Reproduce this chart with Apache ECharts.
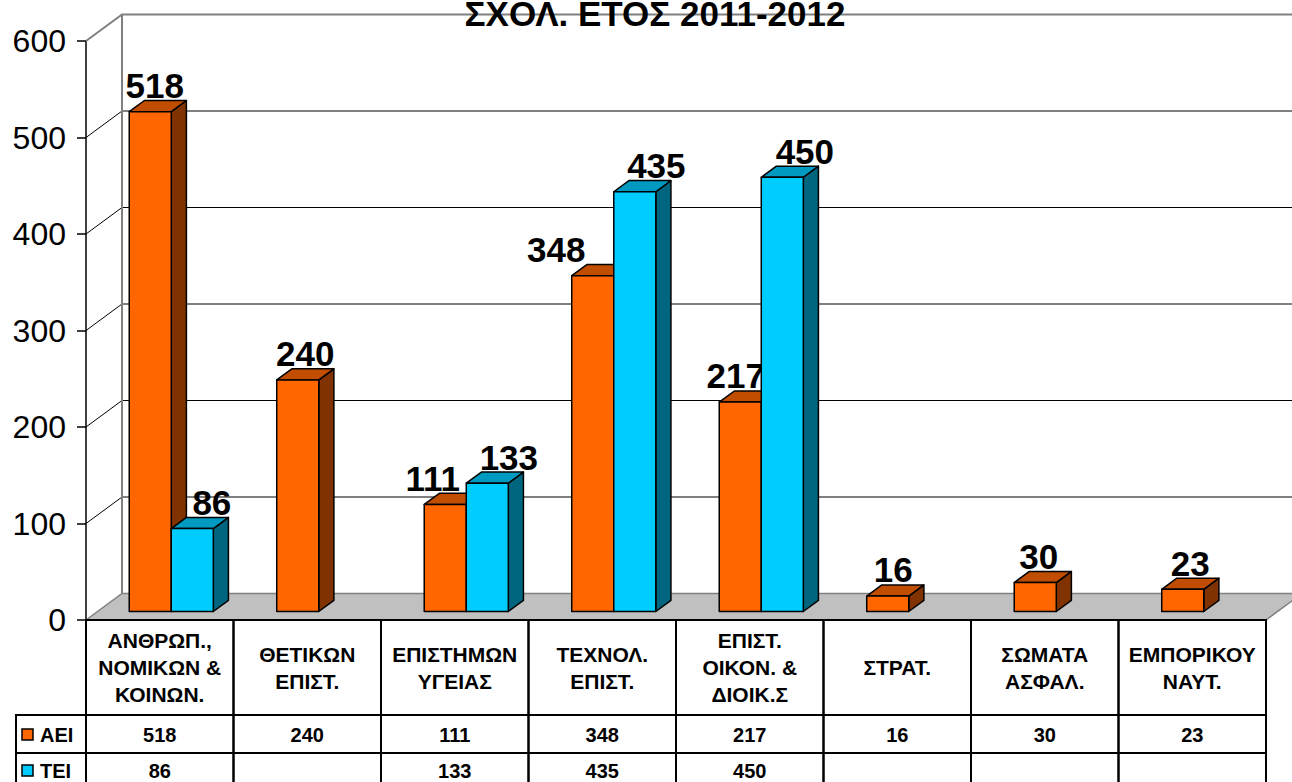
<!DOCTYPE html>
<html>
<head>
<meta charset="utf-8">
<script src="https://cdn.jsdelivr.net/npm/echarts@6/dist/echarts.min.js"></script>
<style>
html, body { margin: 0; padding: 0; background: #fff; }
#main { width: 1292px; height: 782px; }
</style>
</head>
<body>
<div id="main"></div>
<script>
var chartTitle = "ΣΧΟΛ. ΕΤΟΣ 2011-2012";
var categories = [
    "ΑΝΘΡΩΠ.,\nΝΟΜΙΚΩΝ &\nΚΟΙΝΩΝ.",
    "ΘΕΤΙΚΩΝ\nΕΠΙΣΤ.",
    "ΕΠΙΣΤΗΜΩΝ\nΥΓΕΙΑΣ",
    "ΤΕΧΝΟΛ.\nΕΠΙΣΤ.",
    "ΕΠΙΣΤ.\nΟΙΚΟΝ. &\nΔΙΟΙΚ.Σ",
    "ΣΤΡΑΤ.",
    "ΣΩΜΑΤΑ\nΑΣΦΑΛ.",
    "ΕΜΠΟΡΙΚΟΥ\nΝΑΥΤ."
];
var seriesNames = ["ΑΕΙ", "ΤΕΙ"];
var aeiValues = [518, 240, 111, 348, 217, 16, 30, 23];
var teiValues = [86, null, 133, 435, 450, null, null, null];
var yTicks = [0, 100, 200, 300, 400, 500, 600];

// labels that were dragged sideways in the original
var aeiLabelDx = [-3, 0, -20, -44, -12, -2, -4, 0];
var teiLabelDx = [12, 0, 14, 14, 15, 0, 0, 0];

var FONT = '"Liberation Sans", Arial, sans-serif';
var DEPTH = [36, -26.5];      // floor depth in px (oblique)
var BAR_FRONT = 0.32, BAR_BACK = 0.74;
var BAR_W = 0.285;            // part of a category
var HEAD_H = 95, ROW_H = 38, LEGEND_X = 16;

var colAei = { front: "#FF6600", top: "#C04D00", side: "#803300" };
var colTei = { front: "#00CCFF", top: "#0099BF", side: "#006680" };

function txt(text, x, y, size, align, lh) {
    return {
        type: "text",
        style: {
            text: text, x: x, y: y, fill: "#000",
            fontSize: size, fontWeight: "bold", fontFamily: FONT,
            lineHeight: lh || size,
            align: align, verticalAlign: "middle",
            textAlign: align, textVerticalAlign: "middle"
        }
    };
}

function frameRender(params, api) {
    var n = categories.length;
    var cw = api.size([1, 0])[0];
    var L = api.coord([0, 0])[0] - cw / 2;
    var R = api.coord([n - 1, 0])[0] + cw / 2;
    var y0 = api.coord([0, 0])[1];
    var dx = DEPTH[0], dy = DEPTH[1];
    var kids = [];
    var top = yTicks[yTicks.length - 1];
    for (var k = 1; k < yTicks.length; k++) {
        var y = api.coord([0, yTicks[k]])[1];
        var isTop = yTicks[k] === top;
        var st = { fill: "none", stroke: isTop ? "#808080" : "#000", lineWidth: isTop ? 2 : 1 };
        kids.push({ type: "polyline", shape: { points: [[L, y], [L + dx, y + dy], [R + dx + 20, y + dy]] }, style: st });
    }
    var yt = api.coord([0, top])[1];
    kids.push({ type: "line", shape: { x1: L + dx, y1: yt + dy, x2: L + dx, y2: y0 + dy }, style: { stroke: "#808080", lineWidth: 2 } });
    kids.push({
        type: "polygon",
        shape: { points: [[L, y0], [L + dx, y0 + dy], [R + dx, y0 + dy], [R, y0]] },
        style: { fill: "#C0C0C0", stroke: "#808080", lineWidth: 1.5 }
    });
    return { type: "group", children: kids };
}

function makeBarRender(slot, col, labelDx) {
    return function (params, api) {
        var i = api.value(0);
        var v = api.value(1);
        var cw = api.size([1, 0])[0];
        var bw = cw * BAR_W;
        var c = api.coord([i, 0]);
        var t = api.coord([i, v]);
        var fx = BAR_FRONT * DEPTH[0], fy = BAR_FRONT * DEPTH[1];
        var sx = (BAR_BACK - BAR_FRONT) * DEPTH[0], sy = (BAR_BACK - BAR_FRONT) * DEPTH[1];
        var x0 = c[0] - bw + slot * bw + fx;
        var x1 = x0 + bw;
        var yb = c[1] + fy, yt = t[1] + fy;
        var edge = { stroke: "#000", lineWidth: 1.5, lineJoin: "round" };
        var kids = [
            { type: "polygon", shape: { points: [[x1, yt], [x1 + sx, yt + sy], [x1 + sx, yb + sy], [x1, yb]] },
              style: Object.assign({ fill: col.side }, edge) },
            { type: "polygon", shape: { points: [[x0, yt], [x0 + sx, yt + sy], [x1 + sx, yt + sy], [x1, yt]] },
              style: Object.assign({ fill: col.top }, edge) },
            { type: "rect", shape: { x: x0, y: yt, width: bw, height: yb - yt },
              style: Object.assign({ fill: col.front }, edge) }
        ];
        var base = yt + sy - 3;
        kids.push(txt(String(v), x0 + bw / 2 + sx / 2 + labelDx[i], base - 12, 35, "center", 30));
        return { type: "group", children: kids };
    };
}

function tableRender(params, api) {
    var i = api.value(0);
    var cw = api.size([1, 0])[0];
    var c = api.coord([i, 0]);
    var L = c[0] - cw / 2, y0 = c[1];
    var line = { fill: "none", stroke: "#000", lineWidth: 2 };
    var kids = [];
    kids.push({ type: "rect", shape: { x: L, y: y0, width: cw, height: HEAD_H }, style: line });
    kids.push({ type: "rect", shape: { x: L, y: y0 + HEAD_H, width: cw, height: ROW_H }, style: line });
    kids.push({ type: "rect", shape: { x: L, y: y0 + HEAD_H + ROW_H, width: cw, height: ROW_H }, style: line });
    kids.push(txt(categories[i], c[0], y0 + HEAD_H / 2, 21, "center", 27));
    var a = aeiValues[i], b = teiValues[i];
    kids.push(txt(a == null ? "" : String(a), c[0], y0 + HEAD_H + ROW_H / 2 + 1, 20, "center", 18));
    kids.push(txt(b == null ? "" : String(b), c[0], y0 + HEAD_H + ROW_H * 1.5 - 1, 20, "center", 16));
    if (i === 0) {
        var lw = L - LEGEND_X;
        var cols = [colAei.front, colTei.front];
        for (var r = 0; r < 2; r++) {
            var ry = y0 + HEAD_H + r * ROW_H;
            var my = ry + ROW_H / 2 + (r === 0 ? 1 : -1);
            kids.push({ type: "rect", shape: { x: LEGEND_X, y: ry, width: lw, height: ROW_H }, style: line });
            kids.push({ type: "rect", shape: { x: LEGEND_X + 6, y: my - 6, width: 11, height: 11 },
                        style: { fill: cols[r], stroke: "#000", lineWidth: 1.5 } });
            kids.push(txt(seriesNames[r], LEGEND_X + 24, my, 20, "left", 16));
        }
    }
    return { type: "group", children: kids };
}

function pairs(arr) {
    var out = [];
    for (var i = 0; i < arr.length; i++) {
        if (arr[i] != null) out.push([i, arr[i]]);
    }
    return out;
}

var myChart = echarts.init(document.getElementById("main"), null, { renderer: "svg" });
myChart.setOption({
    backgroundColor: "#fff",
    animation: false,
    grid: { left: 86, right: 26, top: 41, bottom: 162 },
    xAxis: {
        type: "category",
        data: categories,
        axisLine: { show: false },
        axisTick: { show: false },
        axisLabel: { show: false }
    },
    yAxis: {
        type: "value",
        min: 0,
        max: 600,
        interval: 100,
        splitLine: { show: false },
        axisLine: { show: true, lineStyle: { color: "#000", width: 1.5 } },
        axisTick: { show: true, length: 9, lineStyle: { color: "#000", width: 1.5 } },
        axisLabel: { fontSize: 32, color: "#000", fontFamily: FONT, margin: 20 }
    },
    graphic: [{
        type: "text",
        z: 100,
        x: 655,
        y: 13,
        style: {
            text: chartTitle, fontSize: 35, fontWeight: "bold", fontFamily: FONT,
            lineHeight: 26, fill: "#000",
            align: "center", verticalAlign: "middle",
            textAlign: "center", textVerticalAlign: "middle"
        }
    }],
    series: [
        { type: "custom", name: "frame", clip: false, silent: true, renderItem: frameRender, data: [[0, 0]], z: 1 },
        { type: "custom", name: seriesNames[0], clip: false, renderItem: makeBarRender(0, colAei, aeiLabelDx), data: pairs(aeiValues), z: 3 },
        { type: "custom", name: seriesNames[1], clip: false, renderItem: makeBarRender(1, colTei, teiLabelDx), data: pairs(teiValues), z: 4 },
        { type: "custom", name: "table", clip: false, silent: true, renderItem: tableRender,
          data: categories.map(function (c, i) { return [i, 0]; }), z: 5 }
    ]
});
</script>
</body>
</html>
